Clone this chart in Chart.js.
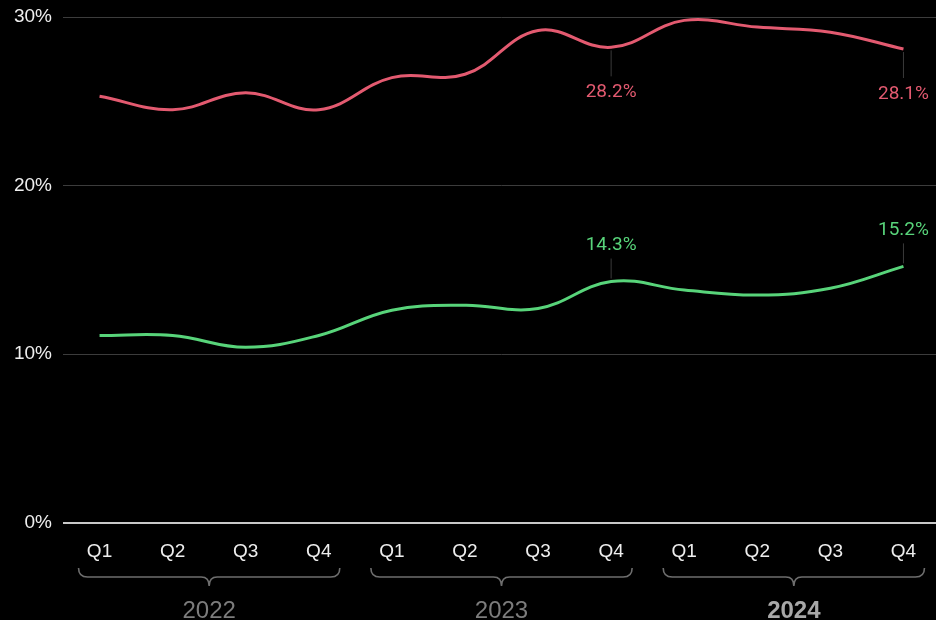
<!DOCTYPE html>
<html>
<head>
<meta charset="utf-8">
<script src="https://cdn.jsdelivr.net/npm/chart.js@4"></script>
<style>
  html, body { margin: 0; padding: 0; background: #000; overflow: hidden; }
  #wrap { width: 940px; height: 620px; }
</style>
</head>
<body>
<div id="wrap"><canvas id="chart"></canvas></div>
<script>
// quarterly series, percent
const quarters = ["Q1", "Q2", "Q3", "Q4", "Q1", "Q2", "Q3", "Q4", "Q1", "Q2", "Q3", "Q4"];
const years = ["2022", "2023", "2024"];
const redSeries = [25.3, 24.5, 25.5, 24.5, 26.4, 26.6, 29.2, 28.2, 29.8, 29.4, 29.1, 28.1];
const greenSeries = [11.1, 11.1, 10.4, 11.1, 12.6, 12.9, 12.7, 14.3, 13.8, 13.5, 13.9, 15.2];
const yTicks = [0, 10, 20, 30];
const labelledIdx = [7, 11];

const RED = "#e35a70";
const GREEN = "#58d47a";
const AXIS_FONT = "'Liberation Sans', Arial, sans-serif";

// braces + year names under the quarter ticks
const yearBraces = {
  id: "yearBraces",
  afterDraw(chart) {
    const ctx = chart.ctx;
    const x = chart.scales.x;
    ctx.save();
    years.forEach((yr, i) => {
      const x0 = x.getPixelForValue(i * 4) - 21;
      const x1 = x.getPixelForValue(i * 4 + 3) + 21;
      const mid = (x0 + x1) / 2;
      const top = 568, base = 577, tip = 586;
      ctx.strokeStyle = "#6e6e6e";
      ctx.lineWidth = 1.6;
      ctx.beginPath();
      ctx.moveTo(x0, top);
      ctx.quadraticCurveTo(x0, base, x0 + 9, base);
      ctx.lineTo(mid - 8, base);
      ctx.quadraticCurveTo(mid, base, mid, tip);
      ctx.quadraticCurveTo(mid, base, mid + 8, base);
      ctx.lineTo(x1 - 9, base);
      ctx.quadraticCurveTo(x1, base, x1, top);
      ctx.stroke();

      const last = i === years.length - 1;
      ctx.fillStyle = last ? "#a8a8a8" : "#7c7c7c";
      ctx.font = (last ? "bold " : "") + "24px " + AXIS_FONT;
      ctx.textAlign = "center";
      ctx.textBaseline = "middle";
      ctx.fillText(yr, mid, 611);
    });
    ctx.restore();
  }
};

// value callouts with a short leader line
const callouts = {
  id: "callouts",
  afterDatasetsDraw(chart) {
    const ctx = chart.ctx;
    ctx.save();
    ctx.font = "19px Roboto, sans-serif";
    ctx.textAlign = "center";
    ctx.textBaseline = "middle";
    chart.data.datasets.forEach((ds, di) => {
      const meta = chart.getDatasetMeta(di);
      const below = ds.calloutBelow;
      labelledIdx.forEach(idx => {
        const pt = meta.data[idx];
        const v = ds.data[idx];
        const ly = below ? pt.y + 45 : pt.y - 36;
        ctx.strokeStyle = "#3a3a3a";
        ctx.lineWidth = 1;
        ctx.beginPath();
        if (below) {
          ctx.moveTo(pt.x, pt.y + 3);
          ctx.lineTo(pt.x, ly - 16);
        } else {
          ctx.moveTo(pt.x, pt.y - 3);
          ctx.lineTo(pt.x, ly + 13);
        }
        ctx.stroke();
        ctx.fillStyle = ds.borderColor;
        ctx.fillText(v.toFixed(1) + "%", pt.x, ly);
      });
    });
    ctx.restore();
  }
};

new Chart(document.getElementById("chart"), {
  type: "line",
  data: {
    labels: quarters,
    datasets: [
      {
        data: redSeries,
        borderColor: RED,
        borderWidth: 3,
        tension: 0.4,
        pointRadius: 0,
        calloutBelow: true
      },
      {
        data: greenSeries,
        borderColor: GREEN,
        borderWidth: 3,
        tension: 0.4,
        pointRadius: 0,
        calloutBelow: false
      }
    ]
  },
  options: {
    responsive: true,
    maintainAspectRatio: false,
    animation: false,
    layout: { padding: { top: 17, right: 0, left: 0, bottom: 0 } },
    plugins: {
      legend: { display: false },
      tooltip: { enabled: false }
    },
    scales: {
      x: {
        offset: true,
        grid: { display: false },
        border: { display: false },
        ticks: {
          color: "#eeeeee",
          font: { size: 19, family: AXIS_FONT },
          padding: 10,
          maxRotation: 0
        },
        afterFit(scale) { scale.height = 97.5; }
      },
      y: {
        min: 0,
        max: 30,
        afterBuildTicks(scale) { scale.ticks = yTicks.map(v => ({ value: v })); },
        grid: {
          color: ctx => ctx.tick && ctx.tick.value === 0 ? "#c8c8c8" : "#3c3c3c",
          lineWidth: ctx => ctx.tick && ctx.tick.value === 0 ? 2 : 1,
          drawTicks: false
        },
        border: { display: false },
        ticks: {
          color: "#eeeeee",
          font: { size: 19, family: AXIS_FONT },
          padding: 11,
          callback: v => v + "%"
        },
        afterFit(scale) {
          scale.width = 63;
          scale.paddingTop = 0;
          scale.paddingBottom = 0;
        }
      }
    }
  },
  plugins: [yearBraces, callouts]
});
</script>
</body>
</html>
